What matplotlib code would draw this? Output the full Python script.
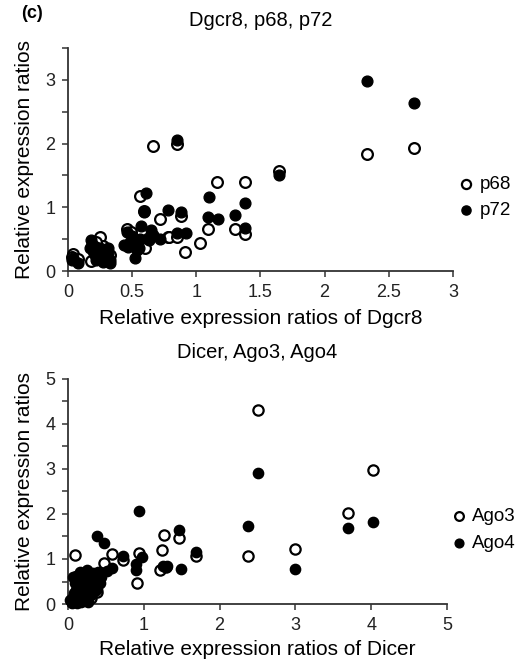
import matplotlib
matplotlib.use("Agg")
from matplotlib import pyplot as plt

plt.rcParams["font.family"] = ["Liberation Sans", "DejaVu Sans"]

# Panel superior: Dgcr8 frente a p68 / p72
p68_x = [0.04, 0.08, 0.18, 0.25, 0.20, 0.33, 0.03, 0.27, 0.22, 0.30, 0.21,
         0.46, 0.49, 0.56, 0.60, 0.59, 0.72, 0.78, 0.79, 0.85, 0.88, 0.91,
         1.03, 1.09, 1.16, 1.30, 1.38, 1.38, 0.665, 0.85, 1.645, 2.33, 2.70]
p68_y = [0.27, 0.19, 0.15, 0.53, 0.30, 0.25, 0.22, 0.40, 0.45, 0.33, 0.38,
         0.66, 0.62, 1.17, 0.36, 0.94, 0.81, 0.54, 0.53, 0.53, 0.86, 0.30,
         0.44, 0.66, 1.39, 0.66, 0.58, 1.40, 1.96, 2.00, 1.57, 1.83, 1.93]

p72_x = [0.03, 0.04, 0.08, 0.17, 0.18, 0.20, 0.22, 0.24, 0.25, 0.28, 0.28,
         0.31, 0.33, 0.33, 0.21, 0.26, 0.30, 0.23, 0.27, 0.19, 0.31,
         0.44, 0.46, 0.51, 0.52, 0.54, 0.55, 0.57, 0.59, 0.48, 0.50, 0.56,
         0.62, 0.47, 0.61, 0.63, 0.65, 0.66, 0.72, 0.78, 0.85, 0.88, 0.92,
         1.09, 1.10, 1.17, 1.30, 1.38, 1.38, 0.85, 1.645, 2.33, 2.70]
p72_y = [0.17, 0.20, 0.12, 0.36, 0.49, 0.28, 0.18, 0.20, 0.36, 0.30, 0.18,
         0.36, 0.17, 0.12, 0.25, 0.26, 0.24, 0.32, 0.14, 0.42, 0.29,
         0.41, 0.62, 0.47, 0.20, 0.33, 0.36, 0.70, 0.93, 0.45, 0.55, 0.50,
         0.52, 0.38, 1.22, 0.49, 0.64, 0.57, 0.50, 0.95, 0.60, 0.93, 0.60,
         0.85, 1.16, 0.82, 0.88, 0.68, 1.07, 2.06, 1.50, 2.98, 2.63]

# Panel inferior: Dicer frente a Ago3 / Ago4
ago3_x = [0.09, 0.58, 0.72, 0.94, 0.91, 0.47, 0.20, 0.31, 1.26, 1.24, 1.21,
          1.29, 1.46, 1.69, 2.37, 2.51, 2.99, 3.70, 4.02, 0.25, 0.12, 0.38,
          0.15, 0.05, 0.30, 0.18, 0.34]
ago3_y = [1.09, 1.12, 0.98, 1.13, 0.47, 0.90, 0.57, 0.13, 1.53, 1.21, 0.76,
          0.82, 1.46, 1.07, 1.07, 4.30, 1.22, 2.03, 2.98, 0.50, 0.20, 0.27,
          0.40, 0.05, 0.42, 0.30, 0.62]

ago4_x = [0.38, 0.48, 0.94, 0.73, 0.90, 0.90, 0.97, 0.58, 0.51,
          0.07, 0.16, 0.25, 0.33, 0.38, 0.42, 0.09, 0.18, 0.27, 0.11, 0.07,
          0.16, 0.25, 0.33, 0.03, 0.14, 0.22, 0.31, 0.38, 0.42, 0.44,
          0.20, 0.29, 0.36, 0.12, 0.20, 0.28, 0.35, 0.10, 0.24, 0.40, 0.17,
          0.26, 0.08,
          1.25, 1.30, 1.46, 1.49, 1.69, 2.37, 2.51, 2.99, 3.70, 4.02, 0.05, 0.12]
ago4_y = [1.50, 1.36, 2.07, 1.07, 0.89, 0.76, 1.05, 0.79, 0.74,
          0.61, 0.72, 0.76, 0.68, 0.53, 0.61, 0.46, 0.38, 0.46, 0.31, 0.16,
          0.24, 0.31, 0.38, 0.09, 0.09, 0.13, 0.20, 0.33, 0.46, 0.61,
          0.55, 0.58, 0.50, 0.45, 0.20, 0.25, 0.28, 0.62, 0.66, 0.72, 0.05,
          0.05, 0.25,
          0.85, 0.85, 1.64, 0.77, 1.16, 1.73, 2.92, 0.78, 1.68, 1.82, 0.03, 0.02]

top_xticks = [0, 0.5, 1, 1.5, 2, 2.5, 3]
top_xlabels = ["0", "0.5", "1", "1.5", "2", "2.5", "3"]
bottom_xticks = [0, 1, 2, 3, 4, 5]


def style_axes(ax):
    for side in ("top", "right"):
        ax.spines[side].set_visible(False)
    for side in ("left", "bottom"):
        ax.spines[side].set_linewidth(1.3)
        ax.spines[side].set_color("#333333")
    ax.tick_params(direction="out", length=4, width=1.1, labelsize=13,
                   color="#333333", labelcolor="#222222", pad=5)


def draw_panel(ax, xs_open, ys_open, xs_fill, ys_fill, labels, size, anchor_x):
    ax.scatter(xs_open, ys_open, s=size, facecolors="white", edgecolors="black",
               linewidths=1.6, label=labels[0], zorder=3, clip_on=False)
    ax.scatter(xs_fill, ys_fill, s=size, facecolors="black", edgecolors="black",
               linewidths=1.0, label=labels[1], zorder=3, clip_on=False)
    ax.legend(loc="center left", bbox_to_anchor=(anchor_x, 0.33), frameon=False,
              fontsize=13.5, handletextpad=0.4, handlelength=0.6,
              labelspacing=0.5, markerscale=0.85)


fig = plt.figure(figsize=(5.23, 6.62), dpi=100)

ax1 = fig.add_axes([0.130, 0.5906, 0.736, 0.337])
draw_panel(ax1, p68_x, p68_y, p72_x, p72_y, ["p68", "p72"], 60, 0.976)
ax1.set_xlim(0, 3)
ax1.set_ylim(0, 3.5)
ax1.set_xticks(top_xticks)
ax1.set_xticklabels(top_xlabels)
ax1.set_yticks([0, 0.5, 1, 1.5, 2, 2.5, 3, 3.5])
ax1.set_yticklabels(["0", "", "1", "", "2", "", "3", ""])
style_axes(ax1)
ax1.set_title("Dgcr8, p68, p72", fontsize=14.5, pad=16)
ax1.set_xlabel("Relative expression ratios of Dgcr8", fontsize=15, labelpad=6)
ax1.set_ylabel("Relative expression ratios", fontsize=15, labelpad=8)

ax2 = fig.add_axes([0.130, 0.0876, 0.7247, 0.340])
draw_panel(ax2, ago3_x, ago3_y, ago4_x, ago4_y, ["Ago3", "Ago4"], 55, 0.973)
ax2.set_xlim(0, 5)
ax2.set_ylim(0, 5)
ax2.set_xticks(bottom_xticks)
ax2.set_yticks([0, 0.5, 1, 1.5, 2, 2.5, 3, 3.5, 4, 4.5, 5])
ax2.set_yticklabels(["0", "", "1", "", "2", "", "3", "", "4", "", "5"])
style_axes(ax2)
ax2.set_title("Dicer, Ago3, Ago4", fontsize=14.5, pad=15)
ax2.set_xlabel("Relative expression ratios of Dicer", fontsize=15, labelpad=5)
ax2.set_ylabel("Relative expression ratios", fontsize=15, labelpad=8)

fig.text(0.040, 0.992, "(c)", fontsize=13, fontweight="bold", va="top")

fig.savefig("out.png", dpi=100)
